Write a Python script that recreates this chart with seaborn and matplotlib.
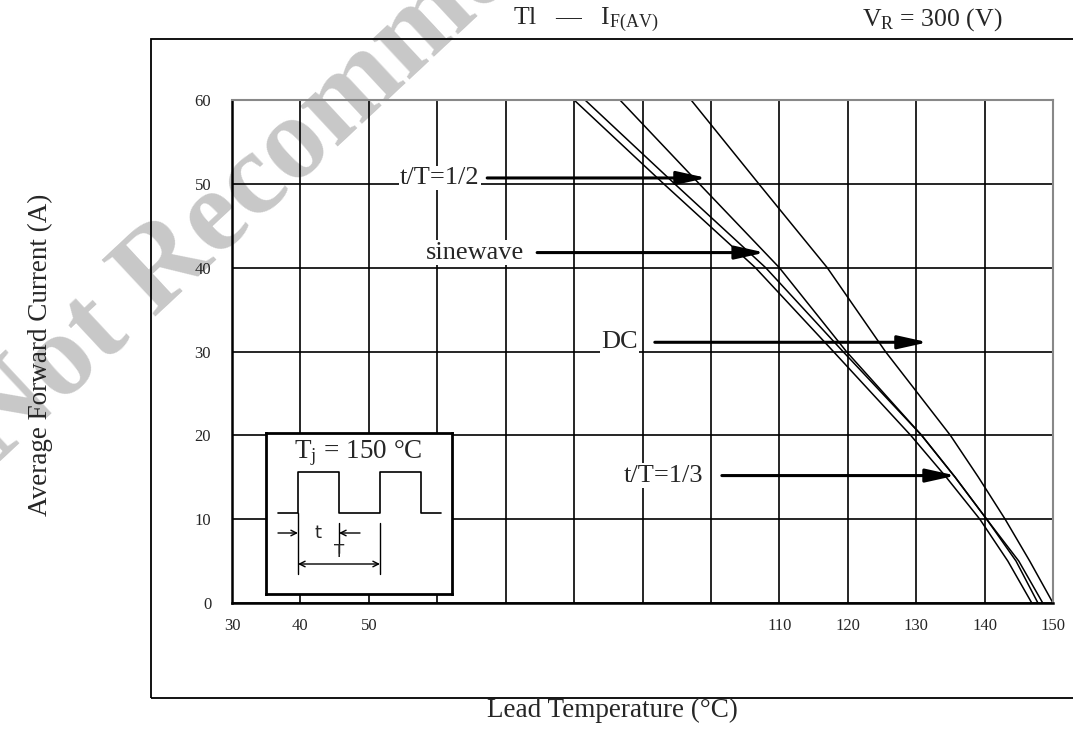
import numpy as np
import pandas as pd
import matplotlib
matplotlib.use("Agg")
import matplotlib.pyplot as plt
import seaborn as sns
from matplotlib.patches import Rectangle

# current levels (A) and the lead temperature (C) read for each curve
current = [60, 50, 40, 30, 20, 15, 10, 5, 0]
temp_third = [80.0, 93.1, 106.5, 117.9, 129.2, 134.4, 139.3, 143.4, 146.9]
temp_half = [81.6, 94.7, 108.0, 119.3, 130.8, 135.7, 140.3, 144.6, 147.8]
temp_sine = [86.7, 98.3, 110.0, 119.8, 130.8, 135.7, 140.3, 145.0, 148.5]
temp_dc = [97.1, 107.0, 117.0, 125.5, 135.0, 139.1, 143.0, 146.6, 150.0]

x_ticks = [30, 40, 50, 60, 70, 80, 90, 100, 110, 120, 130, 140, 150]
x_tick_labels = ["30", "40", "50", "", "", "", "", "", "110", "120", "130", "140", "150"]
y_ticks = [0, 10, 20, 30, 40, 50, 60]

# arrow labels: text, text x, arrow start x, arrow tip x, y
labels = ["t/T=1/2", "sinewave", "DC", "t/T=1/3"]
label_x = [60.4, 65.5, 86.6, 93.0]
arrow_from = [67.3, 74.6, 91.8, 101.6]
arrow_to = [99.4, 107.9, 131.7, 135.8]
arrow_y = [50.7, 41.8, 31.1, 15.2]

df = pd.concat([
    pd.DataFrame({"temp": temp_third, "current": current, "curve": "t/T=1/3"}),
    pd.DataFrame({"temp": temp_half, "current": current, "curve": "t/T=1/2"}),
    pd.DataFrame({"temp": temp_sine, "current": current, "curve": "sinewave"}),
    pd.DataFrame({"temp": temp_dc, "current": current, "curve": "DC"}),
])

sns.set_style("white")
plt.rcParams["font.family"] = ["Liberation Serif", "DejaVu Serif"]
plt.rcParams["mathtext.fontset"] = "custom"
plt.rcParams["mathtext.rm"] = "Liberation Serif"
plt.rcParams["mathtext.it"] = "Liberation Serif:italic"

W, H = 1073, 749
fig = plt.figure(figsize=(W / 100, H / 100), dpi=100)

# watermark behind everything
fig.text(-2 / W, 1 - 463 / H, "Not Recommended", fontsize=85, fontweight="bold",
         color="#c8c8c8", rotation=43, ha="left", va="baseline",
         rotation_mode="anchor", zorder=-5)

# outer frame
fig.patches.append(Rectangle((151 / W, 1 - 698 / H), 1.0, (698 - 39) / H,
                             transform=fig.transFigure, fill=False,
                             edgecolor="black", lw=1.3, zorder=0))

ax = fig.add_axes([232 / W, 1 - 603 / H, 821 / W, 503 / H])
ax.set_facecolor("none")

sns.lineplot(data=df, x="temp", y="current", hue="curve", units="curve",
             estimator=None, sort=False, palette=["black"] * 4, lw=1.1,
             legend=False, ax=ax)

ax.set_xlim(30, 150)
ax.set_ylim(0, 60)
ax.set_xticks(x_ticks)
ax.set_xticklabels(x_tick_labels)
ax.set_yticks(y_ticks)
ax.tick_params(axis="x", length=0, pad=11, labelsize=12)
ax.tick_params(axis="y", length=0, pad=15, labelsize=12)
ax.grid(True, color="black", lw=1.2)
ax.set_axisbelow(True)
ax.set_xlabel("")
ax.set_ylabel("")
for side in ["left", "bottom"]:
    ax.spines[side].set_color("black")
    ax.spines[side].set_linewidth(1.8)
for side in ["top", "right"]:
    ax.spines[side].set_color("#888888")
    ax.spines[side].set_linewidth(1.5)

for txt, tx, x0, x1, yy in zip(labels, label_x, arrow_from, arrow_to, arrow_y):
    ax.text(tx, yy, txt, fontsize=19, ha="center", va="center", zorder=4,
            bbox=dict(facecolor="white", edgecolor="none", pad=1))
    ax.annotate("", xy=(x1, yy), xytext=(x0, yy), zorder=5,
                arrowprops=dict(arrowstyle="-|>,head_length=0.9,head_width=0.2",
                                color="black", lw=2.2, shrinkA=0, shrinkB=0,
                                mutation_scale=20))

# titles and axis labels
fig.text(513 / W, 1 - 20 / H, r"Tl   —   I$_{\mathrm{F(AV)}}$", fontsize=18.5,
         ha="left", va="center")
fig.text(862 / W, 1 - 20 / H, r"V$_{\mathrm{R}}$ = 300 (V)", fontsize=18.5,
         ha="left", va="center")
fig.text(612 / W, 1 - 710 / H, "Lead Temperature (°C)", fontsize=19.5,
         ha="center", va="center")
fig.text(40 / W, 1 - 355 / H, "Average Forward Current (A)", fontsize=19.5,
         ha="center", va="center", rotation=90)

# inset with junction temperature and pulse sketch
ins = fig.add_axes([266 / W, 1 - 594 / H, 186 / W, 161 / H])
ins.set_xlim(0, 186)
ins.set_ylim(0, 161)
ins.set_xticks([])
ins.set_yticks([])
ins.set_facecolor("white")
for s in ins.spines.values():
    s.set_color("black")
    s.set_linewidth(2)
ins.text(92, 141, r"T$_{\mathrm{j}}$ = 150 °C", fontsize=19.5, ha="center", va="center")
wave_x = [12, 32, 32, 73, 73, 114, 114, 155, 155, 175]
wave_y = [81, 81, 122, 122, 81, 81, 122, 122, 81, 81]
ins.plot(wave_x, wave_y, color="black", lw=1.2)
ins.plot([32, 32], [81, 20], color="black", lw=1.0)
ins.plot([73, 73], [71, 41], color="black", lw=1.0)
ins.plot([114, 114], [71, 20], color="black", lw=1.0)
ins.annotate("", xy=(32, 61), xytext=(12, 61),
             arrowprops=dict(arrowstyle="->", color="black", lw=1.0, shrinkA=0, shrinkB=0))
ins.annotate("", xy=(73, 61), xytext=(94, 61),
             arrowprops=dict(arrowstyle="->", color="black", lw=1.0, shrinkA=0, shrinkB=0))
ins.annotate("", xy=(32, 30), xytext=(114, 30),
             arrowprops=dict(arrowstyle="<->", color="black", lw=1.0, shrinkA=0, shrinkB=0))
ins.text(52, 61, "t", fontsize=13, family="DejaVu Sans", ha="center", va="center")
ins.text(73, 42, "T", fontsize=12, family="DejaVu Sans", ha="center", va="center")

fig.savefig("out.png", dpi=100)
